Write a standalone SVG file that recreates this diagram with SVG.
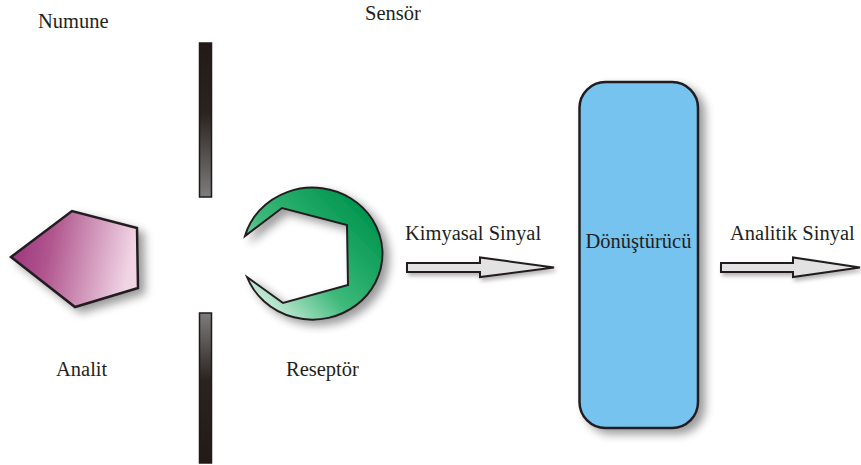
<svg xmlns="http://www.w3.org/2000/svg" width="861" height="465" viewBox="0 0 861 465">
  <style>
    .lbl { font-family: "Liberation Serif", "Times New Roman", serif; font-size: 20.5px; fill: #231f20; }
    .edge { stroke: #231f20; stroke-linejoin: miter; }
    .arrow { fill: #e2e2e2; stroke: #231f20; stroke-width: 2; stroke-linejoin: miter; }
  </style>
  <defs>
    <linearGradient id="gPent" x1="0" y1="0" x2="1" y2="0.15">
      <stop offset="0" stop-color="#98307a"/>
      <stop offset="0.35" stop-color="#b0558e"/>
      <stop offset="1" stop-color="#f1d5e5"/>
    </linearGradient>
    <linearGradient id="gRec" x1="0.1" y1="0.95" x2="0.9" y2="0.2">
      <stop offset="0" stop-color="#e2f4ea"/>
      <stop offset="0.45" stop-color="#3db97a"/>
      <stop offset="1" stop-color="#00964f"/>
    </linearGradient>
    <linearGradient id="gBarTop" x1="0" y1="0" x2="0" y2="1">
      <stop offset="0" stop-color="#231a17"/>
      <stop offset="0.45" stop-color="#2a2320"/>
      <stop offset="1" stop-color="#7d7d7d"/>
    </linearGradient>
    <linearGradient id="gBarBot" x1="0" y1="0" x2="0" y2="1">
      <stop offset="0" stop-color="#7d7d7d"/>
      <stop offset="0.45" stop-color="#2a2320"/>
      <stop offset="1" stop-color="#231a17"/>
    </linearGradient>
    <filter id="shadow" x="-20%" y="-20%" width="150%" height="150%">
      <feGaussianBlur in="SourceAlpha" stdDeviation="5"/>
      <feOffset dx="6" dy="5" result="b"/>
      <feComponentTransfer><feFuncA type="linear" slope="0.4"/></feComponentTransfer>
      <feMerge><feMergeNode/><feMergeNode in="SourceGraphic"/></feMerge>
    </filter>
    <filter id="shadowS" x="-10%" y="-30%" width="130%" height="180%">
      <feGaussianBlur in="SourceAlpha" stdDeviation="2"/>
      <feOffset dx="2" dy="3" result="b"/>
      <feComponentTransfer><feFuncA type="linear" slope="0.3"/></feComponentTransfer>
      <feMerge><feMergeNode/><feMergeNode in="SourceGraphic"/></feMerge>
    </filter>
  </defs>

  <rect width="861" height="465" fill="#ffffff"/>

  <g id="numune-label">
    <text class="lbl" font-family="Liberation Serif, serif" x="38" y="28">Numune</text>
  </g>
  <g id="sensor-label">
    <text class="lbl" font-family="Liberation Serif, serif" x="365" y="20">Sensör</text>
  </g>

  <g id="analit">
    <polygon points="11,257 72,211 137,228 138,288 75,307" fill="url(#gPent)" class="edge" stroke-width="2.5" filter="url(#shadow)"/>
    <text class="lbl" font-family="Liberation Serif, serif" x="56" y="376">Analit</text>
  </g>

  <g id="membran">
    <rect x="199.5" y="43" width="12" height="154" fill="url(#gBarTop)" stroke="#231a17" stroke-width="1.5"/>
    <rect x="199.5" y="313" width="12" height="150" fill="url(#gBarBot)" stroke="#231a17" stroke-width="1.5"/>
  </g>

  <g id="reseptor">
    <path d="M245,236 A70,66 0 1 1 247,277 L283,303 L348,285 L347,225 L282,208 Z" fill="url(#gRec)" class="edge" stroke-width="2" filter="url(#shadow)"/>
    <text class="lbl" font-family="Liberation Serif, serif" x="286" y="376">Reseptör</text>
  </g>

  <g id="donusturucu">
    <rect x="579.5" y="82" width="118.5" height="346" rx="26" ry="26" fill="#74c3ee" stroke="#231f20" stroke-width="2.5" filter="url(#shadow)"/>
    <text class="lbl" font-family="Liberation Serif, serif" x="638.5" y="248" text-anchor="middle">Dönüştürücü</text>
  </g>

  <g id="connectors">
    <g id="kimyasal-sinyal">
      <polygon class="arrow" points="407,263 480,263 480,257.5 554,267.5 480,277 480,272 407,272" filter="url(#shadowS)"/>
      <text class="lbl" font-family="Liberation Serif, serif" x="405" y="240">Kimyasal Sinyal</text>
    </g>
    <g id="analitik-sinyal">
      <polygon class="arrow" points="721,263 793,263 793,257.5 860,267.5 793,277 793,272 721,272" filter="url(#shadowS)"/>
      <text class="lbl" font-family="Liberation Serif, serif" x="730" y="240">Analitik Sinyal</text>
    </g>
  </g>
</svg>
